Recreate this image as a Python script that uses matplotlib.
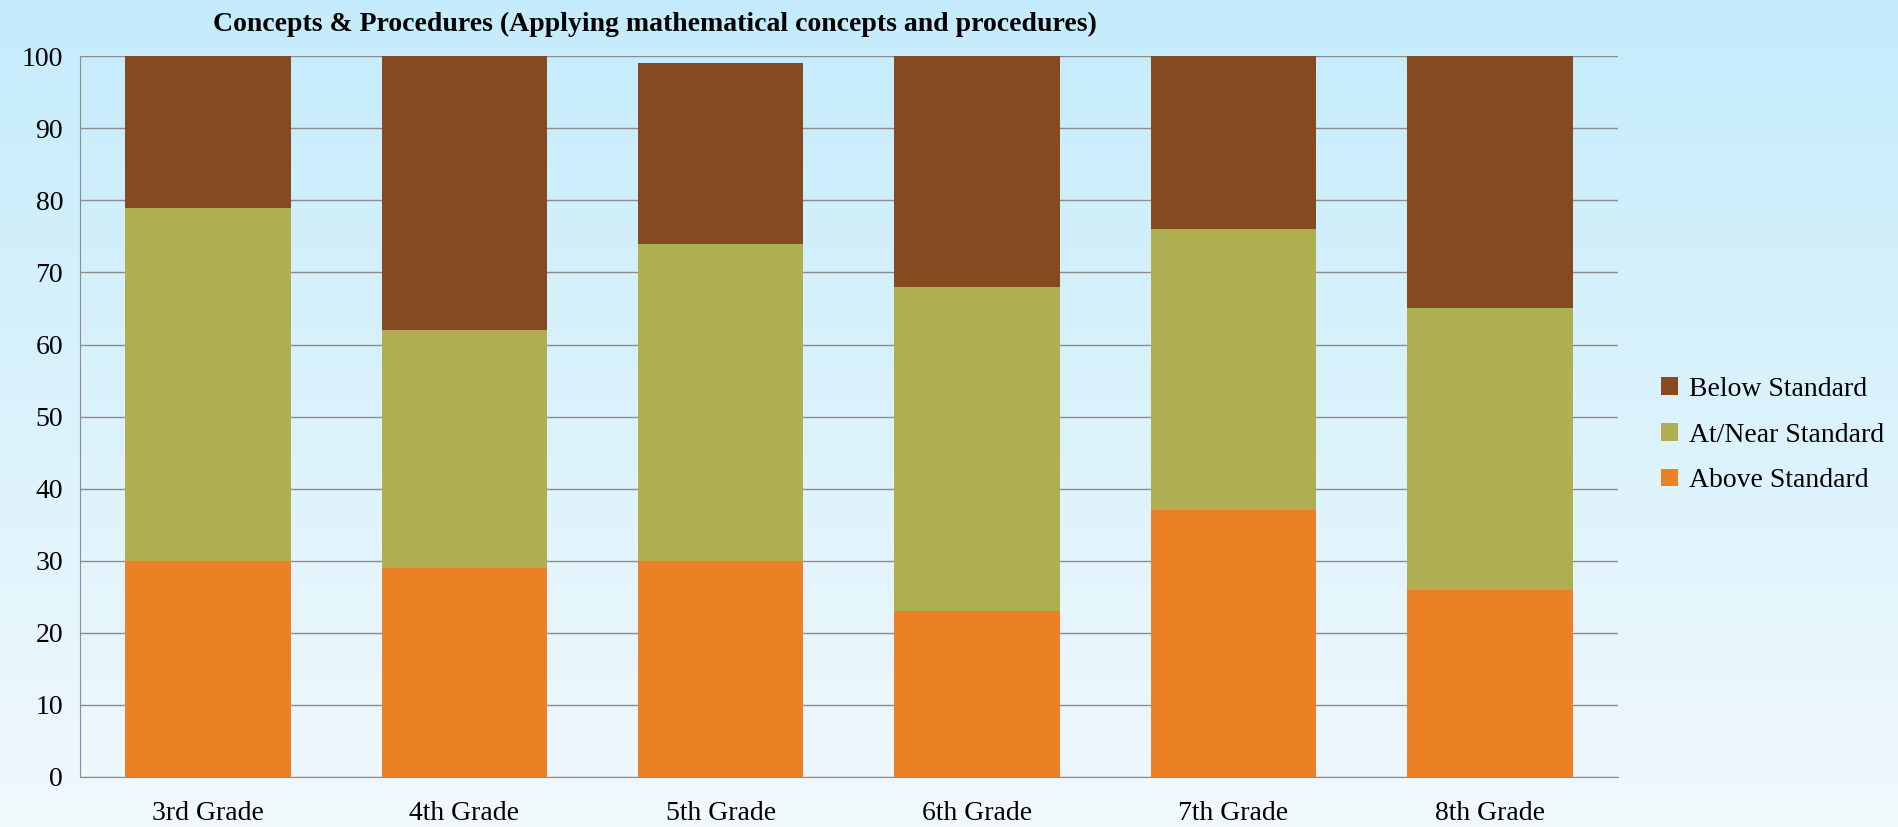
import numpy as np
import matplotlib
matplotlib.use('Agg')
import matplotlib.pyplot as plt

grades = ['3rd Grade', '4th Grade', '5th Grade', '6th Grade', '7th Grade', '8th Grade']
above = [30, 29, 30, 23, 37, 26]
at_near = [49, 33, 44, 45, 39, 39]
below = [21, 38, 25, 32, 24, 35]

plt.rcParams['font.family'] = ['Liberation Serif', 'DejaVu Serif']

fig = plt.figure(figsize=(18.98, 8.27), dpi=100)

# background gradient
bg = fig.add_axes([0, 0, 1, 1], zorder=-10)
grad = np.linspace(0, 1, 256).reshape(-1, 1)
top_c = np.array([0.77, 0.925, 0.985])
bot_c = np.array([0.945, 0.975, 0.99])
img = top_c + (bot_c - top_c) * grad[:, :, None]
bg.imshow(img, aspect='auto', extent=[0, 1, 0, 1])
bg.axis('off')

ax = fig.add_axes([0.042, 0.0605, 0.8105, 0.8715])
ax.patch.set_alpha(0)
x = np.arange(len(grades))
w = 0.645
b1 = ax.bar(x, above, w, color='#eb8025', label='Above Standard', zorder=3)
b2 = ax.bar(x, at_near, w, bottom=above, color='#afae50', label='At/Near Standard', zorder=3)
b3 = ax.bar(x, below, w, bottom=np.array(above) + np.array(at_near), color='#854a20',
            label='Below Standard', zorder=3)

ax.set_xlim(-0.5, 5.5)
ax.set_ylim(0, 100)
ax.set_yticks(range(0, 101, 10))
ax.set_xticks(x)
ax.set_xticklabels(grades)
ax.yaxis.grid(True, color='#8c8c8c', linewidth=1.0, zorder=0)
ax.tick_params(axis='both', length=0, labelsize=20, colors='black')
ax.tick_params(axis='x', pad=17)
ax.tick_params(axis='y', pad=12)
for s in ['top', 'right']:
    ax.spines[s].set_visible(False)
ax.spines['left'].set_color('#8c8c8c')
ax.spines['bottom'].set_color('#8c8c8c')

fig.text(0.345, 0.971, 'Concepts & Procedures (Applying mathematical concepts and procedures)',
         ha='center', va='center', fontsize=20, fontweight='bold')

leg = fig.legend([b3, b2, b1], ['Below Standard', 'At/Near Standard', 'Above Standard'],
                 loc='center left', bbox_to_anchor=(0.862, 0.474), frameon=False,
                 fontsize=20, handlelength=0.6, handleheight=0.6, handletextpad=0.4,
                 labelspacing=0.75)

fig.savefig('out.png', dpi=100)
